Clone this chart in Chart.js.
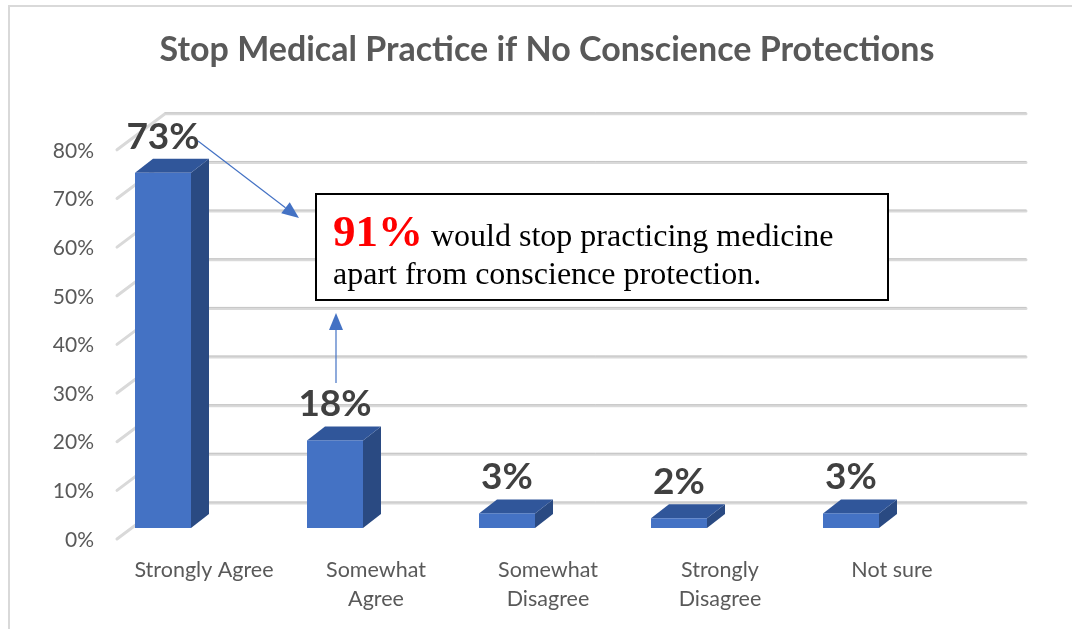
<!DOCTYPE html>
<html lang="en">
<head>
  <meta charset="utf-8" />
  <title>Stop Medical Practice if No Conscience Protections</title>
  <script src="https://cdn.jsdelivr.net/npm/chart.js"></script>
  <style>
    body { margin: 0; background: #fff; }
    canvas { display: block; }
  </style>
</head>
<body>
  <canvas id="chart" width="1072" height="629"></canvas>

  <script>
    // data
    const categories = ['Strongly Agree', ['Somewhat', 'Agree'], ['Somewhat', 'Disagree'], ['Strongly', 'Disagree'], 'Not sure'];
    const percents = [73, 18, 3, 2, 3];
    const yTicks = [0, 10, 20, 30, 40, 50, 60, 70, 80];

    const DEPTH_X = 18, DEPTH_Y = 14;   // 3d look of the bars
    const FRONT_SHIFT = -41;            // bars sit left of the category centre
    const BAR_W = 56;

    // back wall gridlines + floor diagonals
    const wallGrid = {
      id: 'wallGrid',
      beforeDatasetsDraw(chart) {
        const { ctx, chartArea, scales } = chart;
        ctx.save();
        yTicks.forEach(v => {
          const yf = scales.y.getPixelForValue(v);
          const yb = yf - 25;
          ctx.lineCap = 'round';
          ctx.strokeStyle = '#d9d9d9';
          ctx.lineWidth = 3;
          ctx.beginPath();
          ctx.moveTo(chartArea.left - 1, yf + 11);
          ctx.lineTo(chartArea.left + 47, yb);
          ctx.lineTo(chartArea.right + 48, yb);
          ctx.stroke();
          ctx.strokeStyle = '#c6c6c6';
          ctx.lineWidth = 1;
          ctx.beginPath();
          ctx.moveTo(chartArea.left + 47, yb - 1);
          ctx.lineTo(chartArea.right + 48, yb - 1);
          ctx.stroke();
        });
        ctx.restore();
      }
    };

    // 3d bars + value labels
    const bars3d = {
      id: 'bars3d',
      afterDatasetsDraw(chart) {
        const { ctx } = chart;
        const meta = chart.getDatasetMeta(0);
        ctx.save();
        meta.data.forEach((bar, i) => {
          const cx = bar.x + FRONT_SHIFT;
          const x0 = cx - BAR_W / 2, x1 = cx + BAR_W / 2;
          const top = bar.y, bottom = bar.base;

          // side
          ctx.fillStyle = '#2a4a82';
          ctx.beginPath();
          ctx.moveTo(x1, top);
          ctx.lineTo(x1 + DEPTH_X, top - DEPTH_Y);
          ctx.lineTo(x1 + DEPTH_X, bottom - DEPTH_Y);
          ctx.lineTo(x1, bottom);
          ctx.closePath();
          ctx.fill();

          // top
          ctx.fillStyle = '#30569a';
          ctx.beginPath();
          ctx.moveTo(x0, top);
          ctx.lineTo(x0 + DEPTH_X, top - DEPTH_Y);
          ctx.lineTo(x1 + DEPTH_X, top - DEPTH_Y);
          ctx.lineTo(x1, top);
          ctx.closePath();
          ctx.fill();

          // front
          ctx.fillStyle = '#4472c4';
          ctx.fillRect(x0, top, BAR_W, bottom - top);

          ctx.font = 'bold 37px Lato';
          ctx.fillStyle = '#404040';
          ctx.textAlign = 'center';
          ctx.textBaseline = 'alphabetic';
          ctx.fillText(percents[i] + '%', cx, top - 24);
        });
        ctx.restore();
      }
    };

    function arrow(ctx, x1, y1, x2, y2) {
      const a = Math.atan2(y2 - y1, x2 - x1);
      const len = 17, half = 7;
      const bx = x2 - len * Math.cos(a), by = y2 - len * Math.sin(a);
      ctx.beginPath();
      ctx.moveTo(x1, y1);
      ctx.lineTo(bx, by);
      ctx.stroke();
      ctx.beginPath();
      ctx.moveTo(x2, y2);
      ctx.lineTo(bx + half * Math.sin(a), by - half * Math.cos(a));
      ctx.lineTo(bx - half * Math.sin(a), by + half * Math.cos(a));
      ctx.closePath();
      ctx.fill();
    }

    // frame, callout box, arrows
    const extras = {
      id: 'extras',
      afterDraw(chart) {
        const { ctx } = chart;
        ctx.save();
        ctx.strokeStyle = '#d9d9d9';
        ctx.lineWidth = 2;
        ctx.beginPath();
        ctx.moveTo(9, 640);
        ctx.lineTo(9, 6);
        ctx.lineTo(1080, 6);
        ctx.stroke();

        ctx.strokeStyle = '#4472c4';
        ctx.fillStyle = '#4472c4';
        ctx.lineWidth = 1.2;
        arrow(ctx, 198, 141, 299, 218);
        arrow(ctx, 336, 383, 336, 313);

        ctx.fillStyle = '#fff';
        ctx.fillRect(316, 194, 572, 106);
        ctx.strokeStyle = '#000';
        ctx.lineWidth = 2;
        ctx.strokeRect(316, 194, 572, 106);

        ctx.textAlign = 'left';
        ctx.textBaseline = 'alphabetic';
        ctx.font = 'bold 45px "Liberation Serif"';
        ctx.fillStyle = '#ff0000';
        ctx.fillText('91%', 333, 246);
        const w = ctx.measureText('91%').width;
        ctx.font = '32px "Liberation Serif"';
        ctx.fillStyle = '#000';
        ctx.fillText(' would stop practicing medicine', 333 + w, 246);
        ctx.fillText('apart from conscience protection.', 333, 284);
        ctx.restore();
      }
    };

    new Chart(document.getElementById('chart'), {
      type: 'bar',
      data: {
        labels: categories,
        datasets: [{
          label: 'Respondents',
          data: percents,
          backgroundColor: 'rgba(0,0,0,0)'
        }]
      },
      options: {
        responsive: false,
        devicePixelRatio: 1,
        animation: false,
        layout: { padding: { left: 22, right: 0, top: 0, bottom: 0 } },
        plugins: {
          legend: { display: false },
          tooltip: { enabled: false },
          title: {
            display: true,
            text: 'Stop Medical Practice if No Conscience Protections',
            color: '#595959',
            font: { family: 'Lato', size: 34, weight: 'bold', lineHeight: 1.2 },
            padding: { top: 30, bottom: 68 }
          }
        },
        scales: {
          x: {
            grid: { display: false, drawTicks: false },
            border: { display: false },
            ticks: {
              color: '#595959',
              font: { family: 'Lato', size: 21.5, lineHeight: 1.36 },
              padding: 27,
              maxRotation: 0,
              autoSkip: false
            },
            afterFit: s => { s.height = 101; }
          },
          y: {
            min: 0,
            max: 80,
            grid: { display: false, drawTicks: false },
            border: { display: false },
            ticks: {
              stepSize: 10,
              color: '#595959',
              font: { family: 'Lato', size: 21 },
              padding: 24,
              labelOffset: 12,
              callback: v => v + '%'
            },
            afterFit: s => { s.width = 96; }
          },
          yRight: {
            position: 'right',
            min: 0,
            max: 80,
            grid: { display: false, drawTicks: false },
            border: { display: false },
            ticks: { display: false },
            afterFit: s => { s.width = 94; }
          }
        }
      },
      plugins: [wallGrid, bars3d, extras]
    });
  </script>
</body>
</html>
